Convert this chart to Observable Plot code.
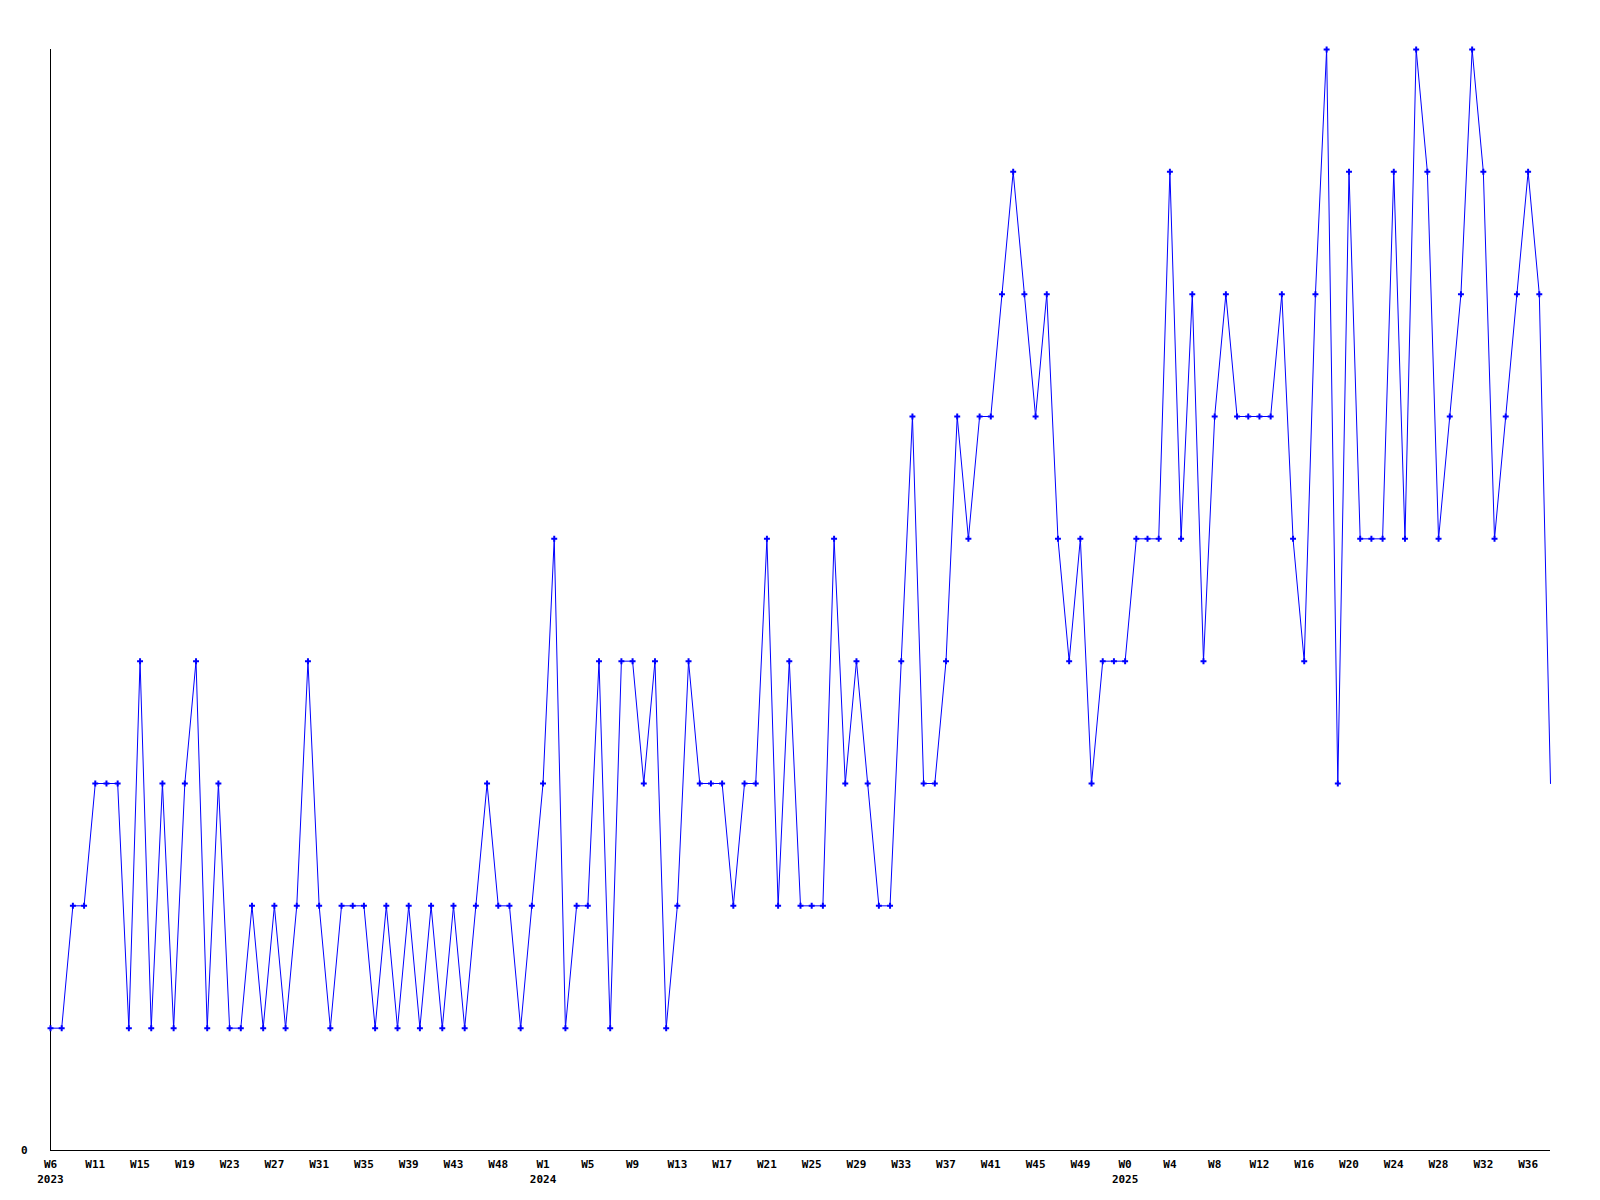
<!DOCTYPE html>
<html>
<head>
<meta charset="utf-8">
<script src="https://cdn.jsdelivr.net/npm/d3@7"></script>
<script src="https://cdn.jsdelivr.net/npm/@observablehq/plot@0.6"></script>
<style>
  html, body { margin: 0; padding: 0; background: #ffffff; }
  #chart svg { display: block; }
</style>
</head>
<body>
<div id="chart"></div>
<script>
// Week categories (year-week), as they appear along the x axis
const weeks2023 = [6, 7, 9, 10, 11, 12, 13, 14, 15, 16, 17, 18, 19, 20, 21, 22, 23, 24, 25, 26, 27, 28, 29, 30, 31, 32, 33, 34, 35, 36, 37, 38, 39, 40, 41, 42, 43, 44, 46, 47, 48, 49, 50, 51];
const weeks2024 = [1, 2, 3, 4, 5, 6, 7, 8, 9, 10, 11, 12, 13, 14, 15, 16, 17, 18, 19, 20, 21, 22, 23, 24, 25, 26, 27, 28, 29, 30, 31, 32, 33, 34, 35, 36, 37, 38, 39, 40, 41, 42, 43, 44, 45, 46, 47, 48, 49, 50, 51, 52];
const weeks2025 = [0, 1, 2, 3, 4, 5, 6, 7, 8, 9, 10, 11, 12, 13, 14, 15, 16, 17, 18, 19, 20, 21, 22, 23, 24, 25, 26, 27, 28, 29, 30, 31, 32, 33, 34, 35, 36, 37, 38];

// Weekly counts
const values = [
  1, 1, 2, 2, 3, 3, 3, 1, 4, 1,
  3, 1, 3, 4, 1, 3, 1, 1, 2, 1,
  2, 1, 2, 4, 2, 1, 2, 2, 2, 1,
  2, 1, 2, 1, 2, 1, 2, 1, 2, 3,
  2, 2, 1, 2, 3, 5, 1, 2, 2, 4,
  1, 4, 4, 3, 4, 1, 2, 4, 3, 3,
  3, 2, 3, 3, 5, 2, 4, 2, 2, 2,
  5, 3, 4, 3, 2, 2, 4, 6, 3, 3,
  4, 6, 5, 6, 6, 7, 8, 7, 6, 7,
  5, 4, 5, 3, 4, 4, 4, 5, 5, 5,
  8, 5, 7, 4, 6, 7, 6, 6, 6, 6,
  7, 5, 4, 7, 9, 3, 8, 5, 5, 5,
  8, 5, 9, 8, 5, 6, 7, 9, 8, 5,
  6, 7, 8, 7, 3
];

const yTicks = [0];
const yMax = 9;
const tickEvery = 4;

const weeks = [
  ...weeks2023.map(w => `2023-W${w}`),
  ...weeks2024.map(w => `2024-W${w}`),
  ...weeks2025.map(w => `2025-W${w}`)
];
const data = weeks.map((week, i) => ({week, value: values[i]}));
const tickWeeks = weeks.filter((d, i) => i % tickEvery === 0);
const fmt = (d) => {
  const [yr, wk] = d.split("-");
  const i = tickWeeks.indexOf(d);
  const first = i === 0 || tickWeeks[i - 1].split("-")[0] !== yr;
  return first ? `${wk}\n${yr}` : wk;
};

const chart = Plot.plot({
  width: 1600,
  height: 1200,
  marginLeft: 50,
  marginRight: 50,
  marginTop: 49,
  marginBottom: 50,
  style: {
    fontFamily: "'DejaVu Sans Mono', monospace",
    fontSize: "11px",
    fontWeight: "bold",
    background: "#ffffff",
    color: "#000000"
  },
  x: {type: "point", domain: weeks, padding: 0, round: false},
  y: {domain: [0, yMax]},
  marks: [
    Plot.ruleY([0], {stroke: "#000000", strokeWidth: 1}),
    Plot.ruleX([weeks[0]], {y1: 0, y2: yMax, stroke: "#000000", strokeWidth: 1}),
    Plot.axisY({ticks: yTicks, tickSize: 0, tickPadding: 23, label: null}),
    Plot.axisX({ticks: tickWeeks, tickSize: 0, tickPadding: 7, tickFormat: fmt, label: null, lineHeight: 1.35}),
    Plot.line(data, {x: "week", y: "value", stroke: "#0000ff", strokeWidth: 1}),
    Plot.dot(data.slice(0, -1), {x: "week", y: "value", symbol: "cross", fill: "#0000ff", stroke: "none", r: 2.5})
  ]
});
document.getElementById("chart").appendChild(chart);
</script>
</body>
</html>
